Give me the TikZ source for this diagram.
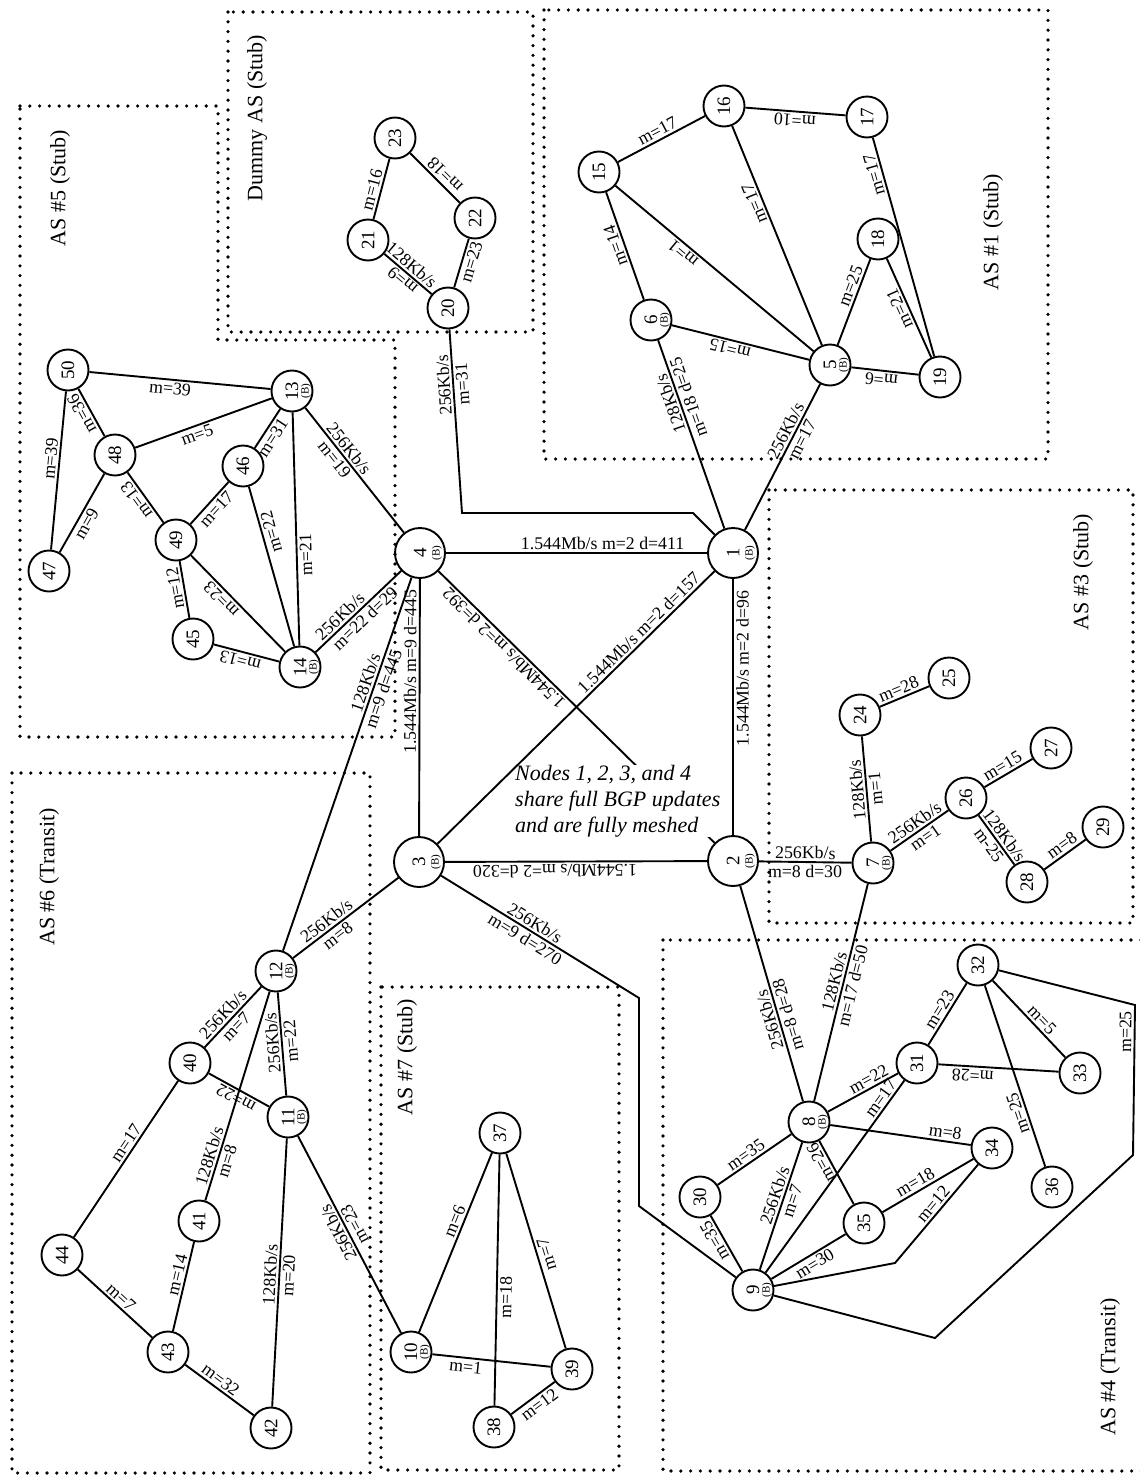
\documentclass[tikz,border=0pt]{standalone}
\usepackage{fontspec}
\setmainfont{Liberation Serif}
\newcommand\labfont{\fontsize{17.8}{19}\selectfont}
\newcommand\numfont{\fontsize{19}{20}\selectfont}
\newcommand\bsfont{\fontsize{11}{12}\selectfont}
\newcommand\ttlfont{\fontsize{22}{24}\selectfont}
\newcommand\notefont{\fontsize{22}{26}\selectfont\itshape}

\begin{document}
\begin{tikzpicture}[x=1pt,y=-1pt,
  rt/.style={circle,draw,line width=1.9pt,minimum size=41pt,inner sep=0pt,rotate=90,font=\numfont},
  core/.style={rt,minimum size=50pt},
  btag/.style={rotate=90,inner sep=0pt,font=\bsfont},
  lab/.style={sloped,allow upside down,inner sep=2.2pt,font=\labfont},
  link/.style={line width=1.9pt},
  asbox/.style={line width=3.6pt,line cap=round,dash pattern=on 0pt off 9.8pt},
  astitle/.style={rotate=90,font=\ttlfont},
  note/.style={anchor=north west,align=left,fill=white,inner sep=0pt,font=\notefont}]

\useasboundingbox (0,0) rectangle (1140,1475);

% AS boundaries
\draw[asbox] (20,106) -- (218,106) -- (218,340) -- (395,340) -- (395,737) -- (20,737) -- cycle;
\draw[asbox] (228,12) rectangle (533,332);
\draw[asbox] (544,10) rectangle (1048,459);
\draw[asbox] (769,490) rectangle (1133,923);
\draw[asbox] (663,940) rectangle (1150,1471);
\draw[asbox] (12,773) rectangle (370,1473);
\draw[asbox] (381,987) rectangle (619,1470);

\node[astitle] (t5) at (60,188) {AS \#5 (Stub)};
\node[astitle] (tdummy) at (257,118) {Dummy AS (Stub)};
\node[astitle] (t1) at (993,232) {AS \#1 (Stub)};
\node[astitle] (t3) at (1083,572) {AS \#3 (Stub)};
\node[astitle] (t6) at (49,877) {AS \#6 (Transit)};
\node[astitle] (t7) at (407,1057) {AS \#7 (Stub)};
\node[astitle] (t4) at (1110,1367) {AS \#4 (Transit)};

% backbone routers
\node[core] (n1) at (733,553) {1};
\node[core] (n2) at (733,861) {2};
\node[core] (n3) at (419,862) {3};
\node[core] (n4) at (420,553) {4};
\node[btag] (n1b) at ([xshift=17pt]n1.center) {(B)};
\node[btag] (n2b) at ([xshift=17pt]n2.center) {(B)};
\node[btag] (n3b) at ([xshift=17pt]n3.center) {(B)};
\node[btag] (n4b) at ([xshift=17pt]n4.center) {(B)};

% border routers
\node[rt] (n5) at (830,365) {5};
\node[rt] (n6) at (651,320) {6};
\node[rt] (n7) at (873,863) {7};
\node[rt] (n8) at (809,1122) {8};
\node[rt] (n9) at (753,1290) {9};
\node[rt] (n10) at (411,1352) {10};
\node[rt] (n11) at (288,1117) {11};
\node[rt] (n12) at (276,971) {12};
\node[rt] (n13) at (292,391) {13};
\node[rt] (n14) at (300,667) {14};
\node[btag] (n5b) at ([xshift=14pt]n5.center) {(B)};
\node[btag] (n6b) at ([xshift=14pt]n6.center) {(B)};
\node[btag] (n7b) at ([xshift=14pt]n7.center) {(B)};
\node[btag] (n8b) at ([xshift=14pt]n8.center) {(B)};
\node[btag] (n9b) at ([xshift=14pt]n9.center) {(B)};
\node[btag] (n10b) at ([xshift=14pt]n10.center) {(B)};
\node[btag] (n11b) at ([xshift=14pt]n11.center) {(B)};
\node[btag] (n12b) at ([xshift=14pt]n12.center) {(B)};
\node[btag] (n13b) at ([xshift=14pt]n13.center) {(B)};
\node[btag] (n14b) at ([xshift=14pt]n14.center) {(B)};

% stub and transit routers
\node[rt] (n15) at (599,172) {15};
\node[rt] (n16) at (724,106) {16};
\node[rt] (n17) at (867,117) {17};
\node[rt] (n18) at (878,239) {18};
\node[rt] (n19) at (940,377) {19};
\node[rt] (n20) at (448,308) {20};
\node[rt] (n21) at (368,240) {21};
\node[rt] (n22) at (475,218) {22};
\node[rt] (n23) at (395,138) {23};
\node[rt] (n24) at (860,715) {24};
\node[rt] (n25) at (949,678) {25};
\node[rt] (n26) at (966,798) {26};
\node[rt] (n27) at (1051,748) {27};
\node[rt] (n28) at (1027,882) {28};
\node[rt] (n29) at (1103,827) {29};
\node[rt] (n30) at (700,1197) {30};
\node[rt] (n31) at (917,1063) {31};
\node[rt] (n32) at (978,965) {32};
\node[rt] (n33) at (1080,1073) {33};
\node[rt] (n34) at (992,1148) {34};
\node[rt] (n35) at (864,1223) {35};
\node[rt] (n36) at (1052,1187) {36};
\node[rt] (n37) at (500,1133) {37};
\node[rt] (n38) at (494,1427) {38};
\node[rt] (n39) at (572,1369) {39};
\node[rt] (n40) at (190,1063) {40};
\node[rt] (n41) at (199,1221) {41};
\node[rt] (n42) at (271,1428) {42};
\node[rt] (n43) at (168,1352) {43};
\node[rt] (n44) at (62,1255) {44};
\node[rt] (n45) at (193,639) {45};
\node[rt] (n46) at (243,466) {46};
\node[rt] (n47) at (49,571) {47};
\node[rt] (n48) at (115,455) {48};
\node[rt] (n49) at (176,540) {49};
\node[rt] (n50) at (68,370) {50};

% bends of the routed links
\coordinate (k1a) at (462,513);
\coordinate (k1b) at (693,513);
\coordinate (k3a) at (639,998);
\coordinate (k3b) at (639,1206);
\coordinate (k9a) at (1135,1005);
\coordinate (k9b) at (1133,1155);
\coordinate (k9c) at (935,1338);
\coordinate (k9d) at (895,1263);

% full mesh of the backbone
\draw[link] (n4) -- node[lab,above,pos=.6]{1.544Mb/s m=2 d=411} (n1);
\draw[link] (n2) -- node[lab,below,pos=.65]{1.544Mb/s m=2 d=96} (n1);
\draw[link] (n3) -- node[lab,above,pos=.64]{1.544Mb/s m=9 d=445} (n4);
\draw[link] (n2) -- node[lab,above,pos=.58]{1.544Mb/s m=2 d=320} (n3);
\draw[link] (n2) -- node[lab,above,pos=.74]{1.544Mb/s m=2 d=392} (n4);
\node[note] (note) at (515,765) {Nodes 1, 2, 3, and 4\\share full BGP updates\\and are fully meshed};
\draw[link] (n3) -- node[lab,above,pos=.75]{1.544Mb/s m=2 d=157} (n1);

% AS 1
\draw[link] (n1) -- node[lab,above,pos=.65]{256Kb/s} node[lab,below,pos=.65]{m=17} (n5);
\draw[link] (n1) -- node[lab,above,pos=.68]{128Kb/s} node[lab,below,pos=.68]{m=18 d=25} (n6);
\draw[link] (n5) -- node[lab,above,pos=.56]{m=15} (n6);
\draw[link] (n6) -- node[lab,above,pos=.53]{m=14} (n15);
\draw[link] (n15) -- node[lab,above,pos=.5]{m=17} (n16);
\draw[link] (n5) -- node[lab,above,pos=.63]{m=1} (n15);
\draw[link] (n17) -- node[lab,above,pos=.5]{m=10} (n16);
\draw[link] (n5) -- node[lab,above,pos=.66]{m=17} (n16);
\draw[link] (n19) -- node[lab,above,pos=.84]{m=17} (n17);
\draw[link] (n5) -- node[lab,above,pos=.65]{m=25} (n18);
\draw[link] (n19) -- node[lab,above,pos=.53]{m=21} (n18);
\draw[link] (n19) -- node[lab,above,pos=.54]{m=6} (n5);

% dummy AS
\draw[link] (n21) -- node[lab,above,pos=.45]{m=16} (n23);
\draw[link] (n22) -- node[lab,below,pos=.43]{m=18} (n23);
\draw[link] (n21) -- node[lab,above,pos=.45]{128Kb/s} (n20);
\path (n20) -- node[lab,above,pos=.5]{m=9} (n21);
\draw[link] (n20) -- node[lab,below,pos=.57]{m=23} (n22);
\draw[link] (n1) -- (k1b) -- (k1a) -- node[lab,above,pos=.7]{256Kb/s} node[lab,below,pos=.7]{m=31} (n20);

% AS 5
\draw[link] (n50) -- node[lab,below,pos=.45]{m=39} (n13);
\draw[link] (n47) -- node[lab,above,pos=.57]{m=39} (n50);
\draw[link] (n48) -- node[lab,above,pos=.57]{m=36} (n50);
\draw[link] (n48) -- node[lab,below,pos=.43]{m=5} (n13);
\draw[link] (n47) -- node[lab,below,pos=.42]{m=9} (n48);
\draw[link] (n49) -- node[lab,above,pos=.55]{m=13} (n48);
\draw[link] (n49) -- node[lab,below,pos=.5]{m=17} (n46);
\draw[link] (n46) -- node[lab,below,pos=.4]{m=31} (n13);
\draw[link] (n14) -- node[lab,below,pos=.39]{m=21} (n13);
\draw[link] (n14) -- node[lab,below,pos=.7]{m=22} (n46);
\draw[link] (n45) -- node[lab,above,pos=.55]{m=12} (n49);
\draw[link] (n14) -- node[lab,above,pos=.61]{m=23} (n49);
\draw[link] (n14) -- node[lab,above,pos=.56]{m=13} (n45);
\draw[link] (n13) -- node[lab,above,pos=.37]{256Kb/s} node[lab,below,pos=.37]{m=19} (n4);
\draw[link] (n14) -- node[lab,above,pos=.36]{256Kb/s} node[lab,below,pos=.5]{m=22 d=29} (n4);

% AS 6
\draw[link] (n12) -- node[lab,above,pos=.71]{128Kb/s} node[lab,below,pos=.71]{m=9 d=445} (n4);
\draw[link] (n12) -- node[lab,above,pos=.37]{256Kb/s} node[lab,below,pos=.37]{m=8} (n3);
\draw[link] (n40) -- node[lab,above,pos=.44]{256Kb/s} node[lab,below,pos=.44]{m=7} (n12);
\draw[link] (n11) -- node[lab,above,pos=.52]{256Kb/s} node[lab,below,pos=.52]{m=22} (n12);
\draw[link] (n41) -- node[lab,above,pos=.2]{128Kb/s} node[lab,below,pos=.2]{m=8} (n12);
\draw[link] (n11) -- node[lab,above,pos=.48]{m=22} (n40);
\draw[link] (n44) -- node[lab,above,pos=.57]{m=17} (n40);
\draw[link] (n44) -- node[lab,above,pos=.5]{m=7} (n43);
\draw[link] (n43) -- node[lab,above,pos=.61]{m=14} (n41);
\draw[link] (n43) -- node[lab,above,pos=.44]{m=32} (n42);
\draw[link] (n42) -- node[lab,above,pos=.49]{128Kb/s} node[lab,below,pos=.49]{m=20} (n11);
\draw[link] (n10) -- node[lab,above,pos=.53]{256Kb/s} node[lab,below,pos=.53]{m=23} (n11);

% AS 7
\draw[link] (n10) -- node[lab,above,pos=.6]{m=6} (n37);
\draw[link] (n38) -- node[lab,below,pos=.43]{m=18} (n37);
\draw[link] (n39) -- node[lab,below,pos=.47]{m=7} (n37);
\draw[link] (n10) -- node[lab,below,pos=.29]{m=1} (n39);
\draw[link] (n38) -- node[lab,below,pos=.52]{m=12} (n39);

% AS 3
\draw[link] (n2) -- node[lab,above,pos=.5]{256Kb/s} node[lab,below,pos=.5]{m=8 d=30} (n7);
\draw[link] (n7) -- node[lab,above,pos=.5]{128Kb/s} node[lab,below,pos=.5]{m=1} (n24);
\draw[link] (n24) -- node[lab,above,pos=.45]{m=28} (n25);
\draw[link] (n7) -- node[lab,above,pos=.51]{256Kb/s} node[lab,below,pos=.51]{m=1} (n26);
\draw[link] (n26) -- node[lab,above,pos=.47]{m=15} (n27);
\draw[link] (n26) -- node[lab,above,pos=.51]{128Kb/s} node[lab,below,pos=.5]{m-25} (n28);
\draw[link] (n28) -- node[lab,above,pos=.55]{m=8} (n29);

% AS 4
\draw[link] (n8) -- node[lab,above,pos=.39]{256Kb/s} node[lab,below,pos=.39]{m=8 d=28} (n2);
\draw[link] (n8) -- node[lab,above,pos=.54]{128Kb/s} node[lab,below,pos=.54]{m=17 d=50} (n7);
\draw[link] (n3) -- node[lab,above,pos=.45]{256Kb/s} node[lab,below,pos=.45]{m=9 d=270} (k3a) -- (k3b) -- (n9);
\draw[link] (n8) -- node[lab,above,pos=.64]{m=22} (n31);
\draw[link] (n9) -- node[lab,above,pos=.88]{m=17} (n31);
\draw[link] (n31) -- node[lab,above,pos=.49]{m=23} (n32);
\draw[link] (n33) -- node[lab,above,pos=.71]{m=28} (n31);
\draw[link] (n32) -- node[lab,above,pos=.59]{m=5} (n33);
\draw[link] (n36) -- node[lab,above,pos=.31]{m=25} (n32);
\draw[link] (n9) -- (k9c) -- (k9b) -- node[lab,above,pos=.82]{m=25} (k9a) -- (n32);
\draw[link] (n9) -- (k9d) -- node[lab,above,pos=.54]{m=12} (n34);
\draw[link] (n8) -- node[lab,above,pos=.81]{m=8} (n34);
\draw[link] (n35) -- node[lab,above,pos=.41]{m=18} (n34);
\draw[link] (n35) -- node[lab,above,pos=.72]{m=26} (n8);
\draw[link] (n30) -- node[lab,above,pos=.45]{m=35} (n8);
\draw[link] (n9) -- node[lab,above,pos=.63]{m=35} (n30);
\draw[link] (n9) -- node[lab,above,pos=.56]{256Kb/s} node[lab,below,pos=.56]{m=7} (n8);
\draw[link] (n9) -- node[lab,below,pos=.52]{m=30} (n35);
\end{tikzpicture}
\end{document}
